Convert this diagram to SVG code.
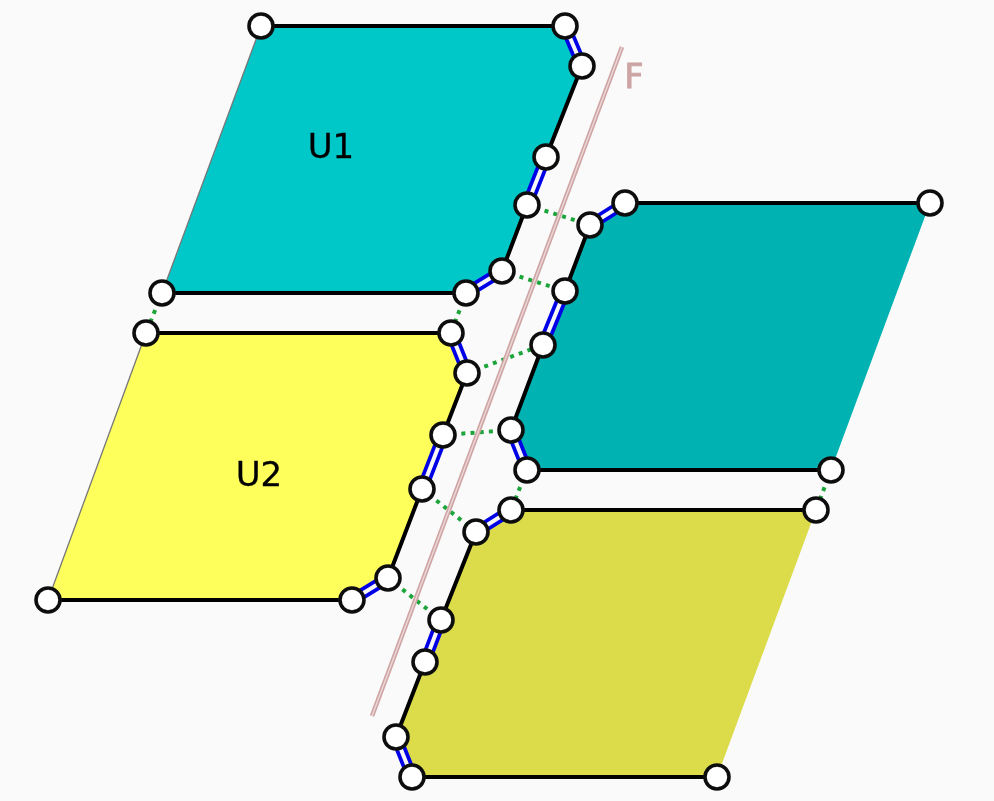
<svg xmlns="http://www.w3.org/2000/svg" width="994" height="801" viewBox="0 0 994 801">
<style>
.bg{fill:#fafafa}
.patch{stroke:none}
.edge{fill:none;stroke:#000;stroke-width:4;stroke-linecap:round}
.thin{fill:none;stroke:#777;stroke-width:1.3}
.dbl-o{fill:none;stroke:#0000e6;stroke-width:11.5}
.dbl-i{fill:none;stroke:#f6f6f6;stroke-width:4}
.dot{fill:none;stroke:#1fa53a;stroke-width:4;stroke-dasharray:4 5.2}
.fault{fill:none;stroke:#cfa4a4;stroke-width:4.6}
.fault-i{fill:none;stroke:#ecd8d8;stroke-width:1.4}
.node{fill:#fff;stroke:#111;stroke-width:3.6}
.lab{font-family:"DejaVu Sans",sans-serif;font-size:34px;fill:#000;stroke:#000;stroke-width:.3}
.f{font-family:"DejaVu Sans",sans-serif;font-size:33px;fill:#cda4a4;stroke:#cda4a4;stroke-width:1}
</style>
<defs><filter id="soft" x="0" y="0" width="994" height="801" filterUnits="userSpaceOnUse"><feGaussianBlur stdDeviation="0.6"/></filter></defs>
<rect class="bg" width="994" height="801"/>
<g filter="url(#soft)">
<g id="patches">
<path class="patch" fill="#00c8c8" d="M261 26H565L582 66L546 157L527 205L502 271L466 293H162Z"/>
<path class="patch" fill="#ffff5c" d="M146 333H451L467 373L443 435L422 489L388 578L352 600H48Z"/>
<path class="patch" fill="#00b2b2" d="M625 203H930L831 470H527L511 430L543 345L565 291L590 225Z"/>
<path class="patch" fill="#dcdc4c" d="M511 510H816L717 777H412L396 737L425 662L441 620L476 532Z"/>
</g>
<g id="connectors">
<path class="thin" d="M261 26L162 293M146 333L48 600"/>
<path class="edge" d="M261 26H565M582 66L546 157M527 205L502 271M466 293H162"/>
<path class="edge" d="M146 333H451M467 373L443 435M422 489L388 578M352 600H48"/>
<path class="edge" d="M625 203H930M590 225L565 291M543 345L511 430M527 470H831"/>
<path class="edge" d="M511 510H816M476 532L441 620M425 662L396 737M412 777H717"/>
<path class="dbl-o" d="M565 26L582 66M546 157L527 205M502 271L466 293M451 333L467 373M443 435L422 489M388 578L352 600M625 203L590 225M565 291L543 345M511 430L527 470M511 510L476 532M441 620L425 662M396 737L412 777"/>
<path class="dbl-i" d="M565 26L582 66M546 157L527 205M502 271L466 293M451 333L467 373M443 435L422 489M388 578L352 600M625 203L590 225M565 291L543 345M511 430L527 470M511 510L476 532M441 620L425 662M396 737L412 777"/>
<path class="dot" d="M527 205L590 225M502 271L565 291M467 373L543 345M443 435L511 430M422 489L476 532M388 578L441 620M466 293L451 333M527 470L511 510M162 293L146 333M831 470L816 510"/>
<path class="fault" d="M622 47L372 716"/>
<path class="fault-i" d="M622 47L372 716"/>
</g>
<g id="n-u1">
<circle class="node" cx="261" cy="26" r="12"/><circle class="node" cx="565" cy="26" r="12"/><circle class="node" cx="582" cy="66" r="12"/><circle class="node" cx="546" cy="157" r="12"/><circle class="node" cx="527" cy="205" r="12"/><circle class="node" cx="502" cy="271" r="12"/><circle class="node" cx="466" cy="293" r="12"/><circle class="node" cx="162" cy="293" r="12"/>
<text class="lab" x="331" y="158" text-anchor="middle">U1</text>
</g>
<g id="n-u2">
<circle class="node" cx="146" cy="333" r="12"/><circle class="node" cx="451" cy="333" r="12"/><circle class="node" cx="467" cy="373" r="12"/><circle class="node" cx="443" cy="435" r="12"/><circle class="node" cx="422" cy="489" r="12"/><circle class="node" cx="388" cy="578" r="12"/><circle class="node" cx="352" cy="600" r="12"/><circle class="node" cx="48" cy="600" r="12"/>
<text class="lab" x="259" y="486" text-anchor="middle">U2</text>
</g>
<g id="n-right">
<circle class="node" cx="625" cy="203" r="12"/><circle class="node" cx="930" cy="203" r="12"/><circle class="node" cx="831" cy="470" r="12"/><circle class="node" cx="527" cy="470" r="12"/><circle class="node" cx="511" cy="430" r="12"/><circle class="node" cx="543" cy="345" r="12"/><circle class="node" cx="565" cy="291" r="12"/><circle class="node" cx="590" cy="225" r="12"/>
</g>
<g id="n-bottom">
<circle class="node" cx="511" cy="510" r="12"/><circle class="node" cx="816" cy="510" r="12"/><circle class="node" cx="717" cy="777" r="12"/><circle class="node" cx="412" cy="777" r="12"/><circle class="node" cx="396" cy="737" r="12"/><circle class="node" cx="425" cy="662" r="12"/><circle class="node" cx="441" cy="620" r="12"/><circle class="node" cx="476" cy="532" r="12"/>
</g>
<g id="n-fault"><text class="f" x="634" y="88" text-anchor="middle">F</text></g>
</g>
</svg>
